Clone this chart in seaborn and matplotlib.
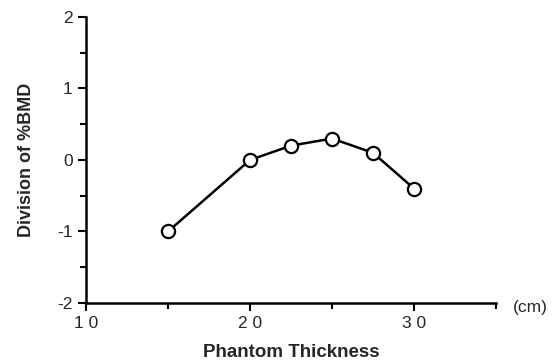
import pandas as pd
import matplotlib.pyplot as plt
from matplotlib.ticker import MultipleLocator
import seaborn as sns
sns.set_style('ticks')
plt.rcParams['font.family'] = ['Liberation Sans', 'DejaVu Sans']
plt.rcParams['axes.unicode_minus'] = False

thickness = [15, 20, 22.5, 25, 27.5, 30]
division = [-1.0, 0.0, 0.2, 0.3, 0.1, -0.4]
x_ticks = [10, 20, 30]
x_ticklabels = ['1 0', '2 0', '3 0']

df = pd.DataFrame({'thickness': thickness, 'division': division})

fig = plt.figure(figsize=(5.53, 3.61), dpi=100)
ax = fig.add_axes([0.1555, 0.1607, 0.7415, 0.7923])

sns.lineplot(data=df, x='thickness', y='division', ax=ax, color='black',
             linewidth=1.8, marker='o', markersize=9.5,
             markerfacecolor='white', markeredgecolor='black',
             markeredgewidth=1.6)

ax.set_xlim(10, 35)
ax.set_ylim(-2, 2)
ax.set_xticks(x_ticks)
ax.set_xticklabels(x_ticklabels)
ax.xaxis.set_minor_locator(MultipleLocator(5))
ax.yaxis.set_major_locator(MultipleLocator(1))
ax.yaxis.set_minor_locator(MultipleLocator(0.5))
ax.tick_params(axis='both', which='major', length=6, width=1.5,
               labelsize=12.5, color='black')
ax.tick_params(axis='both', which='minor', length=4, width=1.5, color='black')
for s in ['top', 'right']:
    ax.spines[s].set_visible(False)
for s in ['left', 'bottom']:
    ax.spines[s].set_linewidth(1.8)
    ax.spines[s].set_color('black')

ax.set_xlabel('Phantom Thickness', fontsize=13.5, fontweight='bold', labelpad=9)
ax.set_ylabel('Division of %BMD', fontsize=13, fontweight='bold', labelpad=16)
ax.text(1.04, -0.015, '(cm)', transform=ax.transAxes, fontsize=12.5,
        va='center', ha='left')

fig.savefig('out.png', dpi=100)
plt.close()
